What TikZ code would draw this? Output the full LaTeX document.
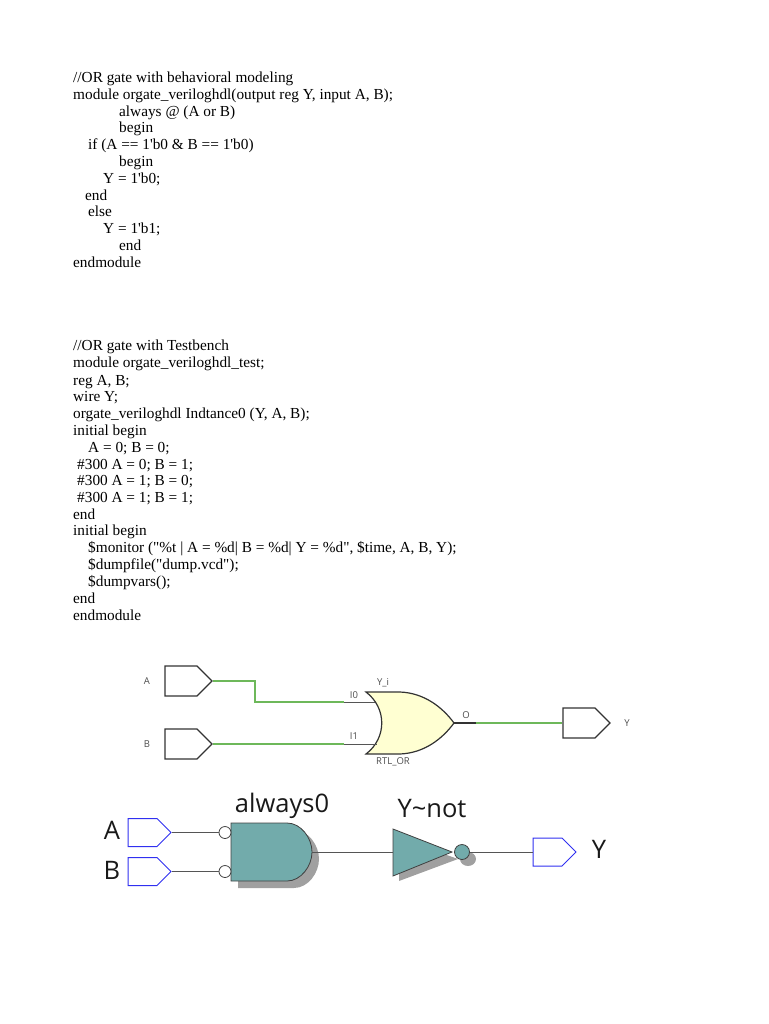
\documentclass[tikz,border=0pt]{standalone}
\usepackage{fontspec}
\newfontfamily\codefont{Liberation Serif}
\newfontfamily\gatefont{Open Sans}
\usetikzlibrary{shapes.symbols}
\definecolor{wiregreen}{HTML}{6DB85A}
\definecolor{wiredark}{HTML}{555555}
\definecolor{orfill}{HTML}{FFFFD2}
\definecolor{gateteal}{HTML}{72ABAB}
\definecolor{gateshadow}{HTML}{A0A0A0}
\definecolor{portblue}{HTML}{3030F0}
\tikzset{
  code/.style={anchor=base west,inner sep=0pt,font=\codefont\fontsize{15.3}{15.3}\selectfont},
  small/.style={inner sep=0pt,text=black!70,font=\gatefont\fontsize{9.5}{9.5}\selectfont},
  big/.style={inner sep=0pt,text=black!90,font=\gatefont\fontsize{25.5}{25.5}\selectfont},
  port/.style={draw,shape=signal,signal to=east,signal pointer angle=90,inner sep=0pt},
  portgrey/.style={port,draw=black!80,line width=1.2pt,minimum width=47pt,minimum height=30pt},
  portblue/.style={port,draw=portblue,line width=1pt,minimum width=43pt,minimum height=28pt},
  bubble/.style={draw=black!75,line width=.8pt,fill=white,circle,inner sep=0pt,minimum size=12pt},
}

\begin{document}
\begin{tikzpicture}[x=1pt,y=-1pt]
\useasboundingbox (0,0) rectangle (768,1024);

% behavioral module
\node[code] (a1) at (73,82.7) {//OR gate with behavioral modeling};
\node[code] (a2) at (73,99.7) {module orgate\_veriloghdl(output reg Y, input A, B);};
\node[code] (a3) at (119,116.7) {always @ (A or B)};
\node[code] (a4) at (119,132.7) {begin};
\node[code] (a5) at (88,149.7) {if (A == 1'b0 \& B == 1'b0)};
\node[code] (a6) at (119,166.7) {begin};
\node[code] (a7) at (103,183.7) {Y = 1'b0;};
\node[code] (a8) at (85,200.7) {end};
\node[code] (a9) at (88,216.7) {else};
\node[code] (a10) at (103,233.7) {Y = 1'b1;};
\node[code] (a11) at (119,250) {end};
\node[code] (a12) at (73,267) {endmodule};

% testbench
\node[code] (b1) at (73,350) {//OR gate with Testbench};
\node[code] (b2) at (73,367) {module orgate\_veriloghdl\_test;};
\node[code] (b3) at (73,385) {reg A, B;};
\node[code] (b4) at (73,401) {wire Y;};
\node[code] (b5) at (73,418) {orgate\_veriloghdl Indtance0 (Y, A, B);};
\node[code] (b6) at (73,435) {initial begin};
\node[code] (b7) at (88,452) {A = 0; B = 0;};
\node[code] (b8) at (77,469) {\#300 A = 0; B = 1;};
\node[code] (b9) at (77,485) {\#300 A = 1; B = 0;};
\node[code] (b10) at (77,502) {\#300 A = 1; B = 1;};
\node[code] (b11) at (73,519) {end};
\node[code] (b12) at (73,535) {initial begin};
\node[code] (b13) at (88,552) {\$monitor ("\%t | A = \%d| B = \%d| Y = \%d", \$time, A, B, Y);};
\node[code] (b14) at (88,569) {\$dumpfile("dump.vcd");};
\node[code] (b15) at (88,586) {\$dumpvars();};
\node[code] (b16) at (73,603) {end};
\node[code] (b17) at (73,620) {endmodule};

% RTL_OR schematic
\node[portgrey] (pA) at (181,681) {};
\node[portgrey] (pB) at (181,744) {};
\node[portgrey] (pY) at (579,723) {};
\node[small] (lA) at (147,681) {A};
\node[small] (lB) at (147,744) {B};
\node[small] (lY) at (627,723) {Y};

\draw[black!80,fill=orfill,line width=1.2pt] (366,692) .. controls (387,708) and (387,738) .. (366,754) -- (400,754)
  .. controls (425,753) and (443,738) .. (454,723) .. controls (443,708) and (425,693) .. (400,692) -- cycle;
\coordinate (i0) at (375,702);
\coordinate (i1) at (377,744);
\coordinate (ot) at (454,723);
\coordinate (bend) at (255,702);
\coordinate (g0) at (344,702);
\coordinate (g1) at (344,744);
\coordinate (g2) at (476,723);

\draw[wiregreen,line width=1.5pt] (pA.east) -| (bend) -- (g0);
\draw[wiredark,line width=1pt] (g0) -- (i0);
\draw[wiregreen,line width=1.5pt] (pB.east) -- (g1);
\draw[wiredark,line width=1pt] (g1) -- (i1);
\draw[black!80,line width=1.5pt] (ot) -- (g2);
\draw[wiregreen,line width=1.5pt] (g2) -- (pY.west);

\node[small] (l0) at (354,695) {I0};
\node[small] (l1) at (354,736) {I1};
\node[small] (ln) at (383,683) {Y\_i};
\node[small] (lo) at (466,715) {O};
\node[small] (lr) at (393,762) {RTL\_OR};

% always0 and Y~not
\fill[gateshadow] (238,830) -- (294,830) .. controls (308,830) and (319,845) .. (319,859)
  .. controls (319,873) and (308,888) .. (294,888) -- (238,888) -- cycle;
\draw[black!75,fill=gateteal,line width=.8pt] (231,823) -- (287,823) .. controls (301,823) and (312,838) .. (312,852)
  .. controls (312,866) and (301,881) .. (287,881) -- (231,881) -- cycle;
\fill[gateshadow] (399,838) -- (458,859) -- (399,881) -- cycle;
\fill[gateshadow] (468,859) ellipse[x radius=8,y radius=7];
\draw[black!75,fill=gateteal,line width=.8pt] (393,829) -- (452,852) -- (393,876) -- cycle;

\node[portblue] (qA) at (142.5,832.5) {};
\node[portblue] (qB) at (142.5,871.5) {};
\node[portblue] (qY) at (547.5,852) {};
\node[bubble] (nA) at (225,832.5) {};
\node[bubble] (nB) at (225,871.5) {};
\node[bubble,fill=gateteal,minimum size=15pt] (nY) at (462,852) {};
\coordinate (gout) at (312,852);
\coordinate (nin) at (393,852);

\draw[wiredark,line width=.9pt] (qA.east) -- (nA);
\draw[wiredark,line width=.9pt] (qB.east) -- (nB);
\draw[wiredark,line width=.9pt] (gout) -- (nin);
\draw[wiredark,line width=.9pt] (nY) -- (qY.west);

\node[big] (la) at (112,830) {A};
\node[big] (lb) at (112,870) {B};
\node[big] (ly) at (599,849) {Y};
\node[big] (lg) at (282,806) {always0};
\node[big] (ln2) at (432,809) {Y\textasciitilde not};
\end{tikzpicture}
\end{document}
